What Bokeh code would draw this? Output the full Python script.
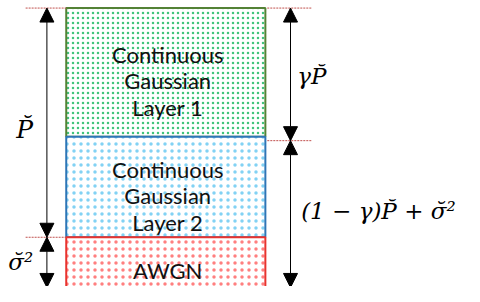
from bokeh.plotting import figure
from bokeh.models import Range1d, Arrow, NormalHead
from bokeh.core.properties import value
from bokeh.embed import file_html
from bokeh.resources import INLINE

# ---- data (diagram values, in reference pixel units) ----
layer_lines = [["Continuous", "Gaussian", "Layer 1"],
               ["Continuous", "Gaussian", "Layer 2"],
               ["AWGN"]]
layer_top = [8, 144, 250]
layer_bottom = [144, 250, 306]
layer_x = [68, 274]
border_colors = ["#548235", "#2e75b6", "#e8332e"]
dot_colors = ["#00b050", "#2fb4ec", "#ff2a2a"]
dot_spacing = [5, 7, 7]
dot_alpha = [0.75, 0.6, 0.6]

span_left_P = [8, 250]        # P-breve
span_left_sigma = [250, 303]  # sigma-breve^2
span_right_gamma = [8, 148]   # gamma P-breve
span_right_rest = [148, 303]  # (1-gamma)P-breve + sigma^2
arrow_x = [48, 300]

label_texts = ["P\u0306", "\u03c3\u0306\u00b2", "\u03b3P\u0306",
               "(1 \u2212 \u03b3)P\u0306 + \u03c3\u0306\u00b2"]

X_MAX, Y_MAX = 480, 302

p = figure(width=464, height=286, x_range=Range1d(0, X_MAX), y_range=Range1d(Y_MAX, 0),
           output_backend="svg", toolbar_location=None, min_border=0)
p.axis.visible = False
p.grid.visible = False
p.outline_line_color = None
p.background_fill_color = "white"
p.border_fill_color = "white"

# ---- layers ----
for i in range(3):
    p.quad(left=[layer_x[0]], right=[layer_x[1]], top=[layer_top[i]], bottom=[layer_bottom[i]],
           fill_color="white", line_color=border_colors[i], line_width=2,
           hatch_pattern="dot", hatch_color=dot_colors[i], hatch_scale=dot_spacing[i],
           hatch_weight=1, hatch_alpha=dot_alpha[i])

# ---- layer texts ----
tx, ty, tt = [], [], []
line_gap = 28
for lines, top, bot in zip(layer_lines, layer_top, layer_bottom):
    c = (top + min(bot, Y_MAX)) / 2
    n = len(lines)
    for i, s in enumerate(lines):
        tx.append((layer_x[0] + layer_x[1]) / 2 + 2)
        ty.append(c + (i - (n - 1) / 2) * line_gap + 9)
        tt.append(s)
p.text(x=tx, y=ty, text=tt, text_align="center", text_baseline="alphabetic",
       text_font=value("Lato"), text_font_size="22px", text_color="#111111")

# ---- dashed guide lines ----
guide_y_left = [span_left_P[0], span_left_P[1]]
guide_y_right = [span_right_gamma[0], span_right_gamma[1]]
p.multi_line(xs=[[26, layer_x[0]]] * 2 + [[layer_x[1] + 2, 322]] * 2,
             ys=[[y, y] for y in guide_y_left] + [[y, y] for y in guide_y_right],
             line_color="#c0504d", line_dash="2 1", line_width=1)

# ---- arrows ----
def head():
    return NormalHead(size=14, fill_color="black", line_color="black", line_width=1)

for x, (y0, y1) in [(arrow_x[0], span_left_P), (arrow_x[0], span_left_sigma),
                    (arrow_x[1], span_right_gamma), (arrow_x[1], span_right_rest)]:
    p.add_layout(Arrow(start=head(), end=head(), x_start=x, y_start=y0, x_end=x, y_end=y1,
                       line_color="black", line_width=1))

# ---- math labels ----
math_font = value("DejaVu Serif")
common = dict(text_font=math_font, text_font_style="italic", text_color="black",
              text_baseline="middle")
p.text(x=[25], y=[136], text=[label_texts[0]], text_align="center", text_font_size="25px", **common)
p.text(x=[21], y=[276], text=[label_texts[1]], text_align="center", text_font_size="23px", **common)
p.text(x=[307], y=[80], text=[label_texts[2]], text_align="left", text_font_size="23px", **common)
p.text(x=[311], y=[222], text=[label_texts[3]], text_align="left", text_font_size="23px", **common)

open("out.html", "w").write(file_html(p, INLINE))
